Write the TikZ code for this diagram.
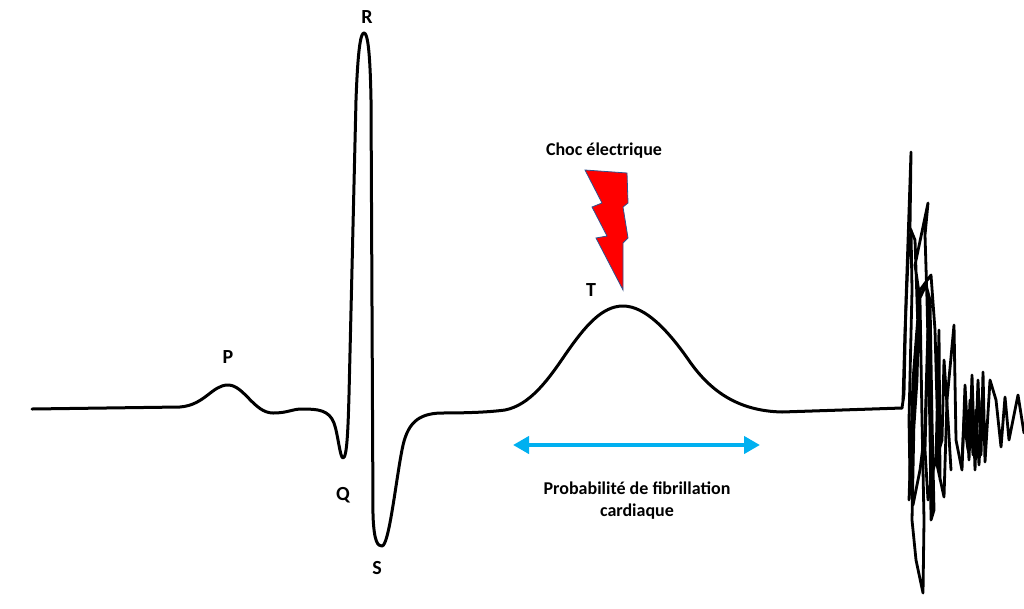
\documentclass[tikz,border=0pt]{standalone}
\usepackage{fontspec}
\setmainfont{Carlito}
\usetikzlibrary{arrows.meta}
\definecolor{arrowblue}{RGB}{0,176,240}
\definecolor{boltred}{RGB}{255,0,0}
\definecolor{boltedge}{RGB}{47,82,143}
\begin{document}
\begin{tikzpicture}[x=1pt,y=-1pt,
  ecg/.style={line width=3pt, line join=round, line cap=round},
  fib/.style={line width=2.8pt, line join=round, line cap=round},
  lbl/.style={font=\bfseries\fontsize{20}{24}\selectfont, inner sep=0pt},
  txt/.style={font=\bfseries\fontsize{18}{22}\selectfont, align=center, inner sep=0pt},
  bolt/.style={fill=boltred, draw=boltedge, line width=0.8pt, line join=miter},
  span/.style={draw=arrowblue, line width=4pt, {Triangle[length=16pt,width=17pt]}-{Triangle[length=16pt,width=17pt]}}]
\useasboundingbox (0,0) rectangle (1024,608);

% ECG trace
\draw[ecg] (32,409) -- (180,407)
  .. controls (205,405) and (212,385) .. (228,385)
  .. controls (244,385) and (254,413) .. (273,413)
  .. controls (288,413) and (292,409) .. (302,409)
  .. controls (318,409) and (329,410) .. (334,423)
  .. controls (338,434) and (340,458) .. (343,458)
  .. controls (347,458) and (348,430) .. (349,395)
  -- (356,100)
  .. controls (358,45) and (361,33) .. (364,33)
  .. controls (367,33) and (370,45) .. (371,100)
  -- (373,515)
  .. controls (374,543) and (378,546) .. (382,546)
  .. controls (389,546) and (396,480) .. (402,450)
  .. controls (407,423) and (418,414) .. (440,413)
  .. controls (470,413) and (490,412) .. (505,410)
  .. controls (530,405) and (548,380) .. (565,355)
  .. controls (585,326) and (602,306) .. (623,306)
  .. controls (645,306) and (668,330) .. (690,362)
  .. controls (712,393) and (740,411) .. (782,412)
  -- (902,408);

% fibrillation
\draw[fib] (902,408) -- (904,394) -- (906,300) -- (911,152) -- (910,228)
  -- (915,240) -- (918,330) -- (914,420) -- (912,520) -- (916,560)
  -- (923,593) -- (924,520) -- (922,420) -- (920,300) -- (915,265)
  -- (928,203) -- (925,235) -- (927,300) -- (930,430) -- (931,520)
  -- (934,510) -- (932,420) -- (930,300) -- (926,285) -- (919,300)
  -- (917,380) -- (911,470) -- (909,500) -- (913,380) -- (920,290)
  -- (931,275) -- (935,330) -- (938,440) -- (940,480) -- (939,330)
  -- (936,460) -- (944,497) -- (947,400) -- (954,325) -- (956,440)
  -- (962,470) -- (965,385) -- (969,460) -- (972,375) -- (975,470)
  -- (978,380) -- (981,455) -- (983,372) -- (985,462) -- (990,380)
  -- (996,400) -- (1001,447) -- (1005,397) -- (1009,440) -- (1013,420)
  -- (1018,395) -- (1024,433);
\draw[fib] (903,400) -- (905,330) -- (908,260) -- (911,230)
  -- (912,290) -- (909,420) -- (910,480) -- (913,505) -- (920,470)
  -- (925,430) -- (927,360) -- (928,330) -- (925,450) -- (928,500)
  -- (933,470) -- (942,440) -- (944,360) -- (948,420) -- (951,470);
\draw[fib] (962,460) -- (964,420) -- (968,450) -- (970,400) -- (973,455)
  -- (976,410) -- (979,465) -- (982,400);

% labels
\node[lbl] (P) at (228,357) {P};
\node[lbl] (Q) at (343,495) {Q};
\node[lbl] (R) at (367,17) {R};
\node[lbl] (S) at (377,568) {S};
\node[lbl] (T) at (591,290) {T};

% electric shock
\node[txt] (choc) at (604,151) {Choc électrique};
\draw[bolt] (585,170) -- (627,173) -- (628,203) -- (623,207) -- (628,238)
  -- (623,243) -- (623,290) -- (596,238) -- (607,236) -- (592,207)
  -- (602,203) -- cycle;

% fibrillation window
\coordinate (aL) at (513,445);
\coordinate (aR) at (760,445);
\draw[span] (aL) -- (aR);
\node[txt] (proba) at (637,501) {Probabilité de fibrillation\\cardiaque};
\end{tikzpicture}
\end{document}
